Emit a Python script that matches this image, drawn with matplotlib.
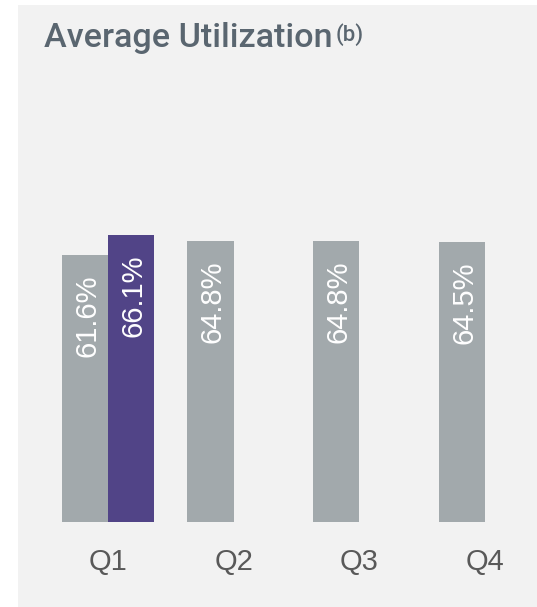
import matplotlib
matplotlib.use("Agg")
import matplotlib.pyplot as plt
from matplotlib.patches import Rectangle

# ---- data ----
quarters = ["Q1", "Q2", "Q3", "Q4"]
prior_values = [61.6, 64.8, 64.8, 64.5]      # gray bars
current_values = [66.1]                        # purple bar (Q1 only)
title = "Average Utilization"
title_sup = "(b)"

GRAY = "#a2a9ac"
PURPLE = "#514487"
BG = "#f2f2f2"
TITLE_C = "#5a6670"
TICK_C = "#595959"

W, H = 537, 607
fig = plt.figure(figsize=(W / 100, H / 100), dpi=100)
fig.patch.set_facecolor("white")
fig.patches.append(Rectangle((18 / W, 0), 1 - 18 / W, (H - 5) / H,
                             transform=fig.transFigure, facecolor=BG,
                             edgecolor="none", zorder=-10))

# axes: baseline at pixel 522 from top
ax_bottom = (H - 522) / H
ax_top = (H - 100) / H
ax = fig.add_axes([0, ax_bottom, 1, ax_top - ax_bottom])
ax.set_facecolor("none")
ax.set_zorder(5)
px_per_unit = 125.67
ax.set_xlim(-108 / px_per_unit, (W - 108) / px_per_unit)
ax.set_ylim(0, 422 / 4.335)

bw = 0.37
x = list(range(len(quarters)))
gx = [xi - bw / 2 for xi in x]
bars_g = ax.bar(gx, prior_values, width=bw, color=GRAY, zorder=2)
px = [x[0] + bw / 2]
bars_p = ax.bar(px, current_values, width=bw, color=PURPLE, zorder=2)

for rect, v in list(zip(bars_g, prior_values)) + list(zip(bars_p, current_values)):
    cx = rect.get_x() + rect.get_width() / 2
    ax.annotate(f"{v:.1f}%", (cx + 0.02, rect.get_height()), xytext=(0, -14),
                textcoords="offset points", rotation=90, ha="center", va="top",
                color="white", fontsize=21, family=["Liberation Sans", "DejaVu Sans"],
                zorder=3)

for xi, q in zip(x, quarters):
    ax.text(xi, -40 / 4.335, q, ha="center", va="center", fontsize=21,
            color=TICK_C, family=["Liberation Sans", "DejaVu Sans"], clip_on=False)

for s in ax.spines.values():
    s.set_visible(False)
ax.set_xticks([])
ax.set_yticks([])

t = fig.text(44 / W, 1 - 38 / H, title, ha="left", va="center", fontsize=24.6,
             color=TITLE_C, family=["Roboto", "DejaVu Sans"], fontweight="medium")
fig.canvas.draw()
bb = t.get_window_extent()
fig.text((bb.x1 + 3) / W, 1 - 35 / H, title_sup, ha="left", va="center",
         fontsize=16, color=TITLE_C, family=["Roboto", "DejaVu Sans"],
         fontweight="medium")

fig.savefig("out.png", dpi=100, facecolor="white")
